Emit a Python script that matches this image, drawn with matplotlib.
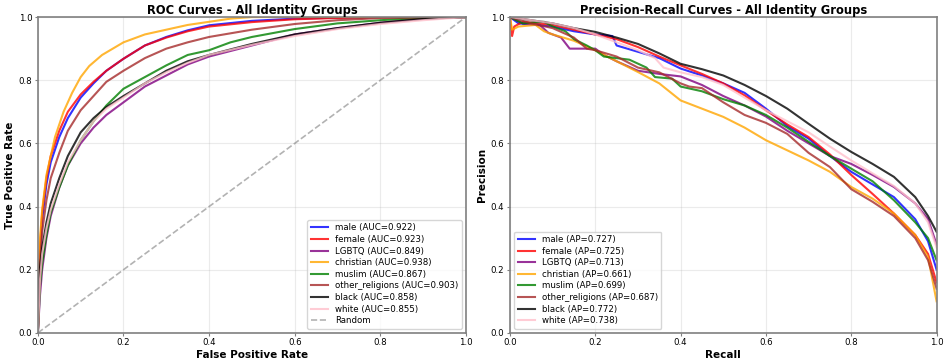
import numpy as np
import matplotlib
matplotlib.use('Agg')
import matplotlib.pyplot as plt

groups = ['male', 'female', 'LGBTQ', 'christian', 'muslim', 'other_religions', 'black', 'white']
colors = ['blue', 'red', 'purple', 'orange', 'green', 'brown', 'black', 'pink']
auc_vals = [0.922, 0.923, 0.849, 0.938, 0.867, 0.903, 0.858, 0.855]
ap_vals = [0.727, 0.725, 0.713, 0.661, 0.699, 0.687, 0.772, 0.738]

# ROC curves: (fpr, tpr)
roc_male = [(0, 0), (0.005, 0.25), (0.01, 0.36), (0.02, 0.47), (0.03, 0.54), (0.05, 0.62), (0.07, 0.68),
            (0.1, 0.745), (0.13, 0.79), (0.16, 0.83), (0.2, 0.868), (0.25, 0.91), (0.3, 0.937),
            (0.35, 0.958), (0.4, 0.974), (0.5, 0.988), (0.6, 0.995), (0.7, 0.998), (0.8, 1.0), (1, 1)]
roc_female = [(0, 0), (0.005, 0.27), (0.01, 0.38), (0.02, 0.49), (0.03, 0.56), (0.05, 0.64), (0.07, 0.70),
              (0.1, 0.755), (0.13, 0.795), (0.16, 0.83), (0.2, 0.868), (0.25, 0.91), (0.3, 0.935),
              (0.35, 0.955), (0.4, 0.97), (0.5, 0.984), (0.6, 0.993), (0.7, 0.997), (0.8, 1.0), (1, 1)]
roc_lgbtq = [(0, 0), (0.005, 0.12), (0.01, 0.2), (0.02, 0.3), (0.03, 0.37), (0.05, 0.46), (0.07, 0.53),
             (0.1, 0.6), (0.13, 0.65), (0.16, 0.69), (0.2, 0.73), (0.25, 0.78), (0.3, 0.815),
             (0.35, 0.85), (0.4, 0.875), (0.5, 0.91), (0.6, 0.945), (0.7, 0.965), (0.8, 0.982),
             (0.9, 0.995), (1, 1)]
roc_christian = [(0, 0), (0.005, 0.3), (0.01, 0.39), (0.02, 0.5), (0.04, 0.62), (0.06, 0.70), (0.08, 0.76),
                 (0.1, 0.81), (0.12, 0.845), (0.15, 0.88), (0.2, 0.92), (0.25, 0.945), (0.3, 0.96),
                 (0.35, 0.975), (0.4, 0.985), (0.45, 0.995), (0.5, 1.0), (1, 1)]
roc_muslim = [(0, 0), (0.005, 0.15), (0.01, 0.22), (0.02, 0.31), (0.03, 0.38), (0.05, 0.46), (0.07, 0.53),
              (0.1, 0.61), (0.13, 0.67), (0.16, 0.72), (0.2, 0.773), (0.25, 0.81), (0.3, 0.847),
              (0.35, 0.88), (0.4, 0.895), (0.45, 0.92), (0.5, 0.937), (0.6, 0.962), (0.7, 0.98),
              (0.8, 0.99), (0.9, 0.998), (1, 1)]
roc_other = [(0, 0), (0.005, 0.22), (0.01, 0.32), (0.02, 0.42), (0.03, 0.49), (0.05, 0.57), (0.07, 0.64),
             (0.1, 0.705), (0.13, 0.75), (0.16, 0.795), (0.2, 0.83), (0.25, 0.87), (0.3, 0.9),
             (0.35, 0.92), (0.4, 0.937), (0.5, 0.96), (0.6, 0.978), (0.7, 0.99), (0.8, 0.997), (1, 1)]
roc_black = [(0, 0), (0.003, 0.18), (0.01, 0.27), (0.02, 0.35), (0.03, 0.41), (0.05, 0.49), (0.07, 0.56),
             (0.1, 0.635), (0.13, 0.68), (0.16, 0.715), (0.2, 0.75), (0.25, 0.79), (0.3, 0.83),
             (0.35, 0.86), (0.4, 0.88), (0.5, 0.915), (0.6, 0.945), (0.7, 0.965), (0.8, 0.982),
             (0.9, 0.994), (1, 1)]
roc_white = [(0, 0), (0.005, 0.17), (0.01, 0.25), (0.02, 0.33), (0.03, 0.39), (0.05, 0.47), (0.07, 0.54),
             (0.1, 0.61), (0.13, 0.67), (0.16, 0.71), (0.2, 0.745), (0.25, 0.79), (0.3, 0.825),
             (0.35, 0.855), (0.4, 0.88), (0.5, 0.912), (0.6, 0.94), (0.7, 0.962), (0.8, 0.978),
             (0.9, 0.99), (1, 1)]

# precision-recall curves: (recall, precision)
pr_male = [(0, 1.0), (0.02, 0.98), (0.1, 0.97), (0.15, 0.955), (0.2, 0.945), (0.24, 0.94), (0.25, 0.91),
           (0.3, 0.89), (0.35, 0.87), (0.4, 0.837), (0.45, 0.815), (0.5, 0.79), (0.55, 0.76), (0.6, 0.71),
           (0.65, 0.655), (0.7, 0.615), (0.75, 0.56), (0.8, 0.51), (0.85, 0.47), (0.9, 0.43),
           (0.95, 0.36), (0.98, 0.29), (1.0, 0.2)]
pr_female = [(0, 1.0), (0.005, 0.94), (0.01, 0.97), (0.03, 0.985), (0.1, 0.975), (0.15, 0.96), (0.2, 0.945),
             (0.25, 0.93), (0.3, 0.905), (0.35, 0.875), (0.4, 0.847), (0.45, 0.82), (0.5, 0.79),
             (0.55, 0.752), (0.6, 0.705), (0.65, 0.66), (0.7, 0.62), (0.75, 0.565), (0.8, 0.5),
             (0.85, 0.44), (0.9, 0.378), (0.95, 0.31), (0.98, 0.25), (1.0, 0.16)]
pr_lgbtq = [(0, 1.0), (0.03, 0.98), (0.07, 0.975), (0.09, 0.95), (0.12, 0.935), (0.14, 0.9), (0.2, 0.9),
            (0.22, 0.88), (0.25, 0.86), (0.3, 0.83), (0.35, 0.82), (0.4, 0.812), (0.45, 0.785),
            (0.5, 0.75), (0.55, 0.72), (0.6, 0.685), (0.65, 0.64), (0.7, 0.6), (0.75, 0.56),
            (0.8, 0.535), (0.85, 0.5), (0.9, 0.462), (0.95, 0.41), (0.98, 0.36), (1.0, 0.28)]
pr_christian = [(0, 1.0), (0.005, 0.96), (0.02, 0.97), (0.06, 0.975), (0.08, 0.955), (0.1, 0.945),
                (0.15, 0.925), (0.2, 0.895), (0.25, 0.86), (0.3, 0.826), (0.35, 0.79), (0.4, 0.736),
                (0.45, 0.71), (0.5, 0.684), (0.55, 0.65), (0.6, 0.61), (0.65, 0.578), (0.7, 0.546),
                (0.75, 0.51), (0.8, 0.462), (0.85, 0.425), (0.9, 0.378), (0.95, 0.31), (0.98, 0.24),
                (1.0, 0.1)]
pr_muslim = [(0, 1.0), (0.03, 0.98), (0.08, 0.985), (0.1, 0.97), (0.13, 0.955), (0.15, 0.93), (0.18, 0.91),
             (0.2, 0.895), (0.22, 0.875), (0.28, 0.865), (0.32, 0.84), (0.34, 0.81), (0.38, 0.805),
             (0.4, 0.78), (0.45, 0.765), (0.5, 0.74), (0.55, 0.72), (0.6, 0.69), (0.65, 0.65),
             (0.7, 0.605), (0.75, 0.56), (0.8, 0.52), (0.85, 0.48), (0.9, 0.42), (0.95, 0.35),
             (0.98, 0.3), (1.0, 0.23)]
pr_other = [(0, 1.0), (0.05, 0.98), (0.1, 0.965), (0.15, 0.935), (0.18, 0.9), (0.2, 0.895), (0.25, 0.875),
            (0.3, 0.84), (0.35, 0.825), (0.4, 0.79), (0.42, 0.78), (0.45, 0.775), (0.5, 0.73),
            (0.55, 0.69), (0.6, 0.665), (0.65, 0.63), (0.7, 0.57), (0.75, 0.525), (0.8, 0.455),
            (0.85, 0.415), (0.9, 0.37), (0.95, 0.3), (0.98, 0.23), (1.0, 0.14)]
pr_black = [(0, 1.0), (0.05, 0.99), (0.1, 0.98), (0.15, 0.965), (0.2, 0.953), (0.25, 0.935), (0.3, 0.915),
            (0.35, 0.885), (0.4, 0.852), (0.45, 0.835), (0.5, 0.815), (0.55, 0.785), (0.6, 0.75),
            (0.65, 0.71), (0.7, 0.662), (0.75, 0.615), (0.8, 0.573), (0.85, 0.535), (0.9, 0.494),
            (0.95, 0.43), (0.98, 0.37), (1.0, 0.32)]
pr_white = [(0, 1.0), (0.05, 0.99), (0.1, 0.98), (0.15, 0.965), (0.2, 0.945), (0.25, 0.92), (0.3, 0.895),
            (0.34, 0.87), (0.36, 0.84), (0.4, 0.825), (0.45, 0.81), (0.5, 0.785), (0.55, 0.745),
            (0.6, 0.705), (0.65, 0.67), (0.7, 0.635), (0.75, 0.59), (0.8, 0.546), (0.85, 0.505),
            (0.9, 0.465), (0.95, 0.41), (0.98, 0.35), (1.0, 0.27)]

roc_curves = [roc_male, roc_female, roc_lgbtq, roc_christian, roc_muslim, roc_other, roc_black, roc_white]
pr_curves = [pr_male, pr_female, pr_lgbtq, pr_christian, pr_muslim, pr_other, pr_black, pr_white]

fig = plt.figure(figsize=(9.47, 3.63), dpi=100)
ax1 = fig.add_axes([0.040, 0.083, 0.452, 0.870])
ax2 = fig.add_axes([0.5385, 0.083, 0.4505, 0.870])

for g, c, a, pts in zip(groups, colors, auc_vals, roc_curves):
    pts = np.array(pts)
    ax1.plot(pts[:, 0], pts[:, 1], color=c, lw=1.5, alpha=0.8, label=f'{g} (AUC={a:.3f})')
ax1.plot([0, 1], [0, 1], '--', color='gray', lw=1.2, alpha=0.6, label='Random')

for g, c, a, pts in zip(groups, colors, ap_vals, pr_curves):
    pts = np.array(pts)
    ax2.plot(pts[:, 0], pts[:, 1], color=c, lw=1.5, alpha=0.8, label=f'{g} (AP={a:.3f})')

for ax, title, xl, yl, loc in [(ax1, 'ROC Curves - All Identity Groups', 'False Positive Rate',
                                'True Positive Rate', 'lower right'),
                               (ax2, 'Precision-Recall Curves - All Identity Groups', 'Recall',
                                'Precision', 'lower left')]:
    ax.set_xlim(0, 1)
    ax.set_ylim(0, 1)
    ax.set_title(title, fontsize=8.3, fontweight='bold', pad=2)
    ax.set_xlabel(xl, fontsize=7.5, fontweight='bold', labelpad=2)
    ax.set_ylabel(yl, fontsize=7.5, fontweight='bold', labelpad=3)
    ax.tick_params(labelsize=6.2, length=2.5, pad=1.5, color='gray')
    ax.grid(True, alpha=0.25)
    for s in ax.spines.values():
        s.set_color('gray')
        s.set_linewidth(1.2)
    ax.legend(loc=loc, fontsize=6.2, handlelength=2, labelspacing=0.3, borderpad=0.4)

fig.savefig('out.png', dpi=100)
